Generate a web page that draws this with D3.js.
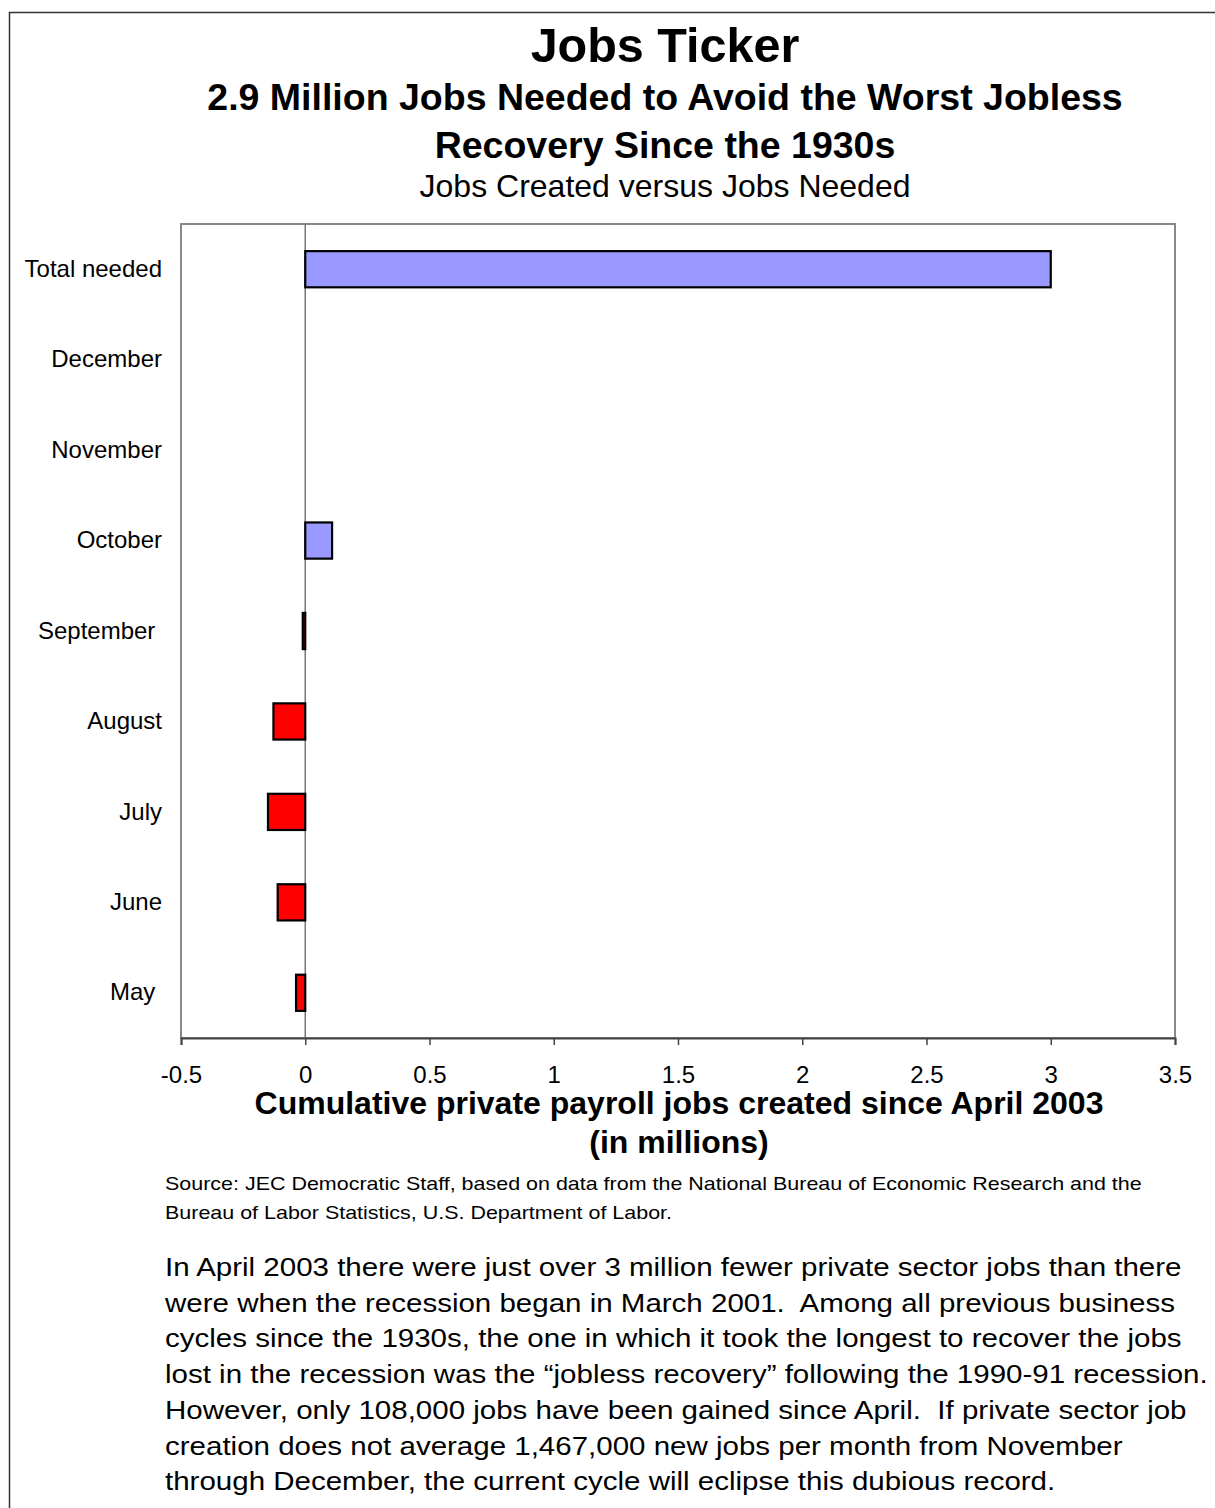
<!DOCTYPE html>
<html>
<head>
<meta charset="utf-8">
<script src="https://cdn.jsdelivr.net/npm/d3@7/dist/d3.min.js"></script>
<style>
  html, body { margin: 0; padding: 0; background: #fff; }
  svg { display: block; font-family: "Liberation Sans", Arial, sans-serif; }
</style>
</head>
<body>
<svg id="chart" width="1215" height="1508"></svg>
<script>
// ---- data ----
const categories = ["Total needed", "December", "November", "October", "September ", "August", "July", "June", "May "];
const jobValues = [3.0, null, null, 0.108, -0.01, -0.128, -0.15, -0.111, -0.037];
const tickValues = [-0.5, 0, 0.5, 1, 1.5, 2, 2.5, 3, 3.5];
const tickLabels = ["-0.5", "0", "0.5", "1", "1.5", "2", "2.5", "3", "3.5"];
const titleLines = ["Jobs Ticker"];
const subtitleLines = ["2.9 Million Jobs Needed to Avoid the Worst Jobless", "Recovery Since the 1930s"];
const subtitle2 = "Jobs Created versus Jobs Needed";
const axisTitleLines = ["Cumulative private payroll jobs created since April 2003", "(in millions)"];
const sourceLines = ["Source: JEC Democratic Staff, based on data from the National Bureau of Economic Research and the",
                     "Bureau of Labor Statistics, U.S. Department of Labor."];
const paragraphLines = [
  "In April 2003 there were just over 3 million fewer private sector jobs than there",
  "were when the recession began in March 2001.  Among all previous business",
  "cycles since the 1930s, the one in which it took the longest to recover the jobs",
  "lost in the recession was the \u201Cjobless recovery\u201D following the 1990-91 recession.",
  "However, only 108,000 jobs have been gained since April.  If private sector job",
  "creation does not average 1,467,000 new jobs per month from November",
  "through December, the current cycle will eclipse this dubious record."
];

const svg = d3.select("#chart");

// outer frame
svg.append("rect").attr("x", 9.5).attr("y", 12.5).attr("width", 1300).attr("height", 1600)
  .attr("fill", "none").attr("stroke", "#333").attr("stroke-width", 1.5);

// plot area
const plot = { left: 181, right: 1175, top: 224, bottom: 1038 };
const x = d3.scaleLinear().domain([-0.5, 3.5]).range([plot.left, plot.right]);
const y = d3.scaleBand().domain(categories).range([plot.top, plot.bottom]).paddingInner(0.6).paddingOuter(0.3);

// titles
const cx = 665;
svg.append("text").attr("x", cx).attr("y", 45).attr("dy", "0.35em").attr("text-anchor", "middle")
  .attr("font-size", 48.5).attr("font-weight", "bold").text(titleLines[0]);
subtitleLines.forEach((t, i) => {
  svg.append("text").attr("x", cx).attr("y", 97 + i * 48).attr("dy", "0.35em").attr("text-anchor", "middle")
    .attr("font-size", 37.5).attr("font-weight", "bold").text(t);
});
svg.append("text").attr("x", cx).attr("y", 186).attr("dy", "0.35em").attr("text-anchor", "middle")
  .attr("font-size", 32).text(subtitle2);

// plot border
svg.append("rect").attr("x", plot.left).attr("y", plot.top)
  .attr("width", plot.right - plot.left).attr("height", plot.bottom - plot.top)
  .attr("fill", "none").attr("stroke", "#888").attr("stroke-width", 2);

// zero line
svg.append("line").attr("x1", x(0)).attr("x2", x(0)).attr("y1", plot.top).attr("y2", plot.bottom)
  .attr("stroke", "#777").attr("stroke-width", 1.5);

// bars
const barData = categories.map((c, i) => ({ c, v: jobValues[i] })).filter(d => d.v !== null);
svg.append("g").selectAll("rect").data(barData).join("rect")
  .attr("x", d => x(Math.min(0, d.v)))
  .attr("y", d => y(d.c))
  .attr("width", d => Math.abs(x(d.v) - x(0)))
  .attr("height", y.bandwidth())
  .attr("fill", d => d.v >= 0 ? "#9999FF" : "#FF0000")
  .attr("stroke", "#000").attr("stroke-width", 2.2);

// x axis
const xAxis = d3.axisBottom(x).tickValues(tickValues).tickSize(7).tickPadding(21)
  .tickFormat((d, i) => tickLabels[i]);
const gx = svg.append("g").attr("transform", `translate(0,${plot.bottom})`).call(xAxis);
gx.select(".domain").attr("stroke", "#444").attr("stroke-width", 2);
gx.selectAll(".tick line").attr("stroke", "#444").attr("stroke-width", 1.5);
gx.selectAll(".tick text").attr("font-size", 24).attr("fill", "#000")
  .attr("font-family", "Liberation Sans, Arial, sans-serif");

// y axis labels
const yAxis = d3.axisLeft(y).tickSize(0).tickPadding(19);
const gy = svg.append("g").attr("transform", `translate(${plot.left},0)`).call(yAxis);
gy.select(".domain").remove();
gy.selectAll(".tick text").attr("font-size", 24).attr("fill", "#000").style("white-space", "pre")
  .attr("font-family", "Liberation Sans, Arial, sans-serif");

// axis title
axisTitleLines.forEach((t, i) => {
  svg.append("text").attr("x", 679).attr("y", 1103 + i * 39).attr("dy", "0.35em").attr("text-anchor", "middle")
    .attr("font-size", 32).attr("font-weight", "bold").text(t);
});

// source (horizontally stretched like the original rendering)
const gs = svg.append("g").attr("transform", "translate(165,0) scale(1.13,1)");
sourceLines.forEach((t, i) => {
  gs.append("text").attr("x", 0).attr("y", 1183 + i * 29).attr("dy", "0.35em")
    .attr("font-size", 19).text(t);
});

// paragraph
const gp = svg.append("g").attr("transform", "translate(165,0) scale(1.135,1)");
paragraphLines.forEach((t, i) => {
  gp.append("text").attr("x", 0).attr("y", 1267 + i * 35.7).attr("dy", "0.35em")
    .attr("font-size", 26).style("white-space", "pre").text(t);
});
</script>
</body>
</html>
